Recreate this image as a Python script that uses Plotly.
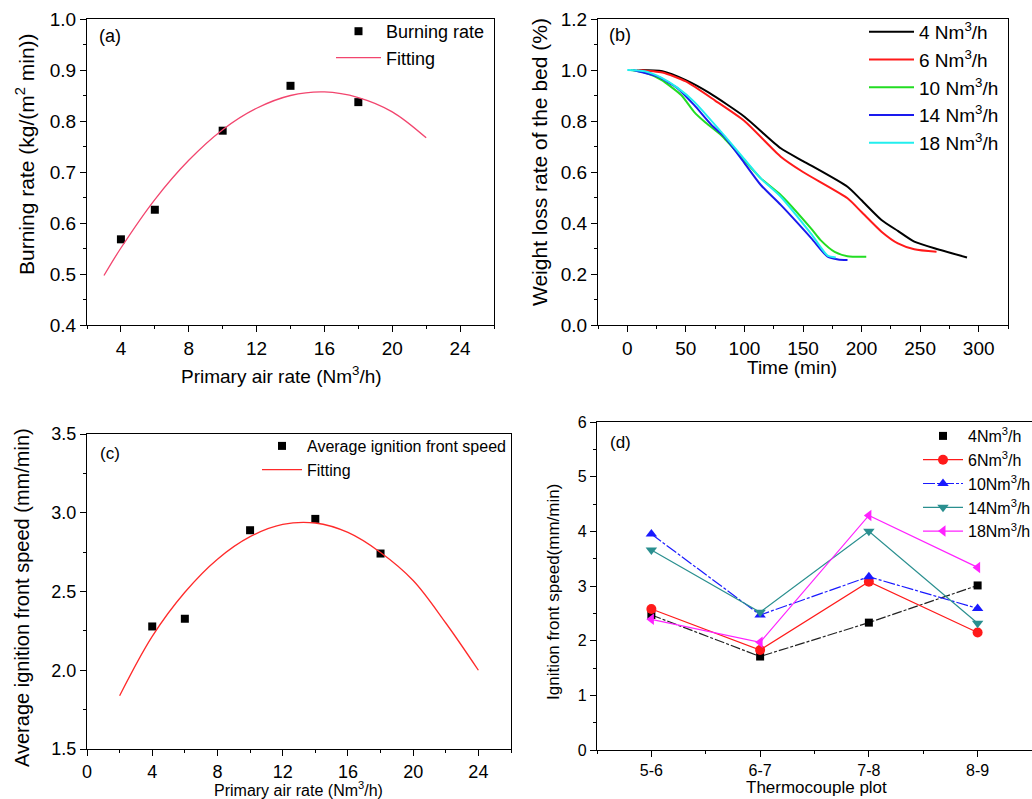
import plotly.graph_objects as go

W, H = 1032, 799
FONT = "Liberation Sans, Arial, sans-serif"


def fx(p):
    return p / W


def fy(p):
    return 1 - p / H


# ---------------- data ----------------
# (a) burning rate
air_rate = [4, 6, 10, 14, 18]
burning_rate = [0.568, 0.626, 0.781, 0.869, 0.837]
fit_a_x = [3, 4, 6, 8, 10, 12, 14, 16, 18, 20, 22]
fit_a_y = [0.497, 0.551, 0.646, 0.723, 0.783, 0.825, 0.850, 0.857, 0.846, 0.818, 0.767]

# (b) weight loss rate of the bed
t_4 = [10, 30, 50, 70, 100, 131, 150, 188, 200, 217, 231, 245, 265, 290]
w_4 = [1.0, 0.995, 0.96, 0.91, 0.817, 0.693, 0.643, 0.542, 0.489, 0.412, 0.369, 0.327, 0.297, 0.265]
t_6 = [8, 30, 50, 75, 100, 131, 150, 188, 200, 217, 231, 245, 264]
w_6 = [1.0, 0.99, 0.955, 0.88, 0.80, 0.66, 0.60, 0.497, 0.443, 0.366, 0.32, 0.297, 0.287]
t_10 = [3, 15, 29, 46, 57, 66, 80, 100, 114, 131, 157, 165, 177, 188, 204]
w_10 = [1.0, 0.99, 0.961, 0.902, 0.836, 0.797, 0.745, 0.645, 0.575, 0.51, 0.378, 0.333, 0.287, 0.27, 0.268]
t_14 = [5, 26, 43, 57, 72, 83, 100, 114, 131, 157, 171, 180, 188]
w_14 = [1.0, 0.974, 0.928, 0.863, 0.784, 0.738, 0.635, 0.549, 0.471, 0.341, 0.268, 0.257, 0.255]
t_18 = [0, 15, 29, 43, 57, 80, 100, 114, 131, 157, 171, 178]
w_18 = [1.0, 0.995, 0.97, 0.93, 0.876, 0.758, 0.65, 0.575, 0.503, 0.357, 0.272, 0.265]

# (c) average ignition front speed
ign_speed = [2.278, 2.327, 2.889, 2.961, 2.741]
fit_c_x = [2, 4, 6, 8, 10, 12, 14, 16, 18, 20, 22, 24]
fit_c_y = [1.838, 2.215, 2.495, 2.705, 2.848, 2.926, 2.935, 2.875, 2.748, 2.570, 2.300, 2.0]

# (d) ignition front speed per thermocouple plot
tc_plots = ["5-6", "6-7", "7-8", "8-9"]
d_4 = [2.47, 1.71, 2.33, 3.01]
d_6 = [2.58, 1.83, 3.08, 2.15]
d_10 = [3.95, 2.47, 3.17, 2.59]
d_14 = [3.66, 2.52, 4.00, 2.32]
d_18 = [2.39, 1.97, 4.29, 3.34]

tc_x = list(range(len(tc_plots)))

fig = go.Figure()

# ---- (a)
fig.add_trace(go.Scatter(x=air_rate, y=burning_rate, mode="markers", name="Burning rate",
                         marker=dict(symbol="square", size=8, color="black"),
                         xaxis="x", yaxis="y", legend="legend"))
fig.add_trace(go.Scatter(x=fit_a_x, y=fit_a_y, mode="lines", name="Fitting",
                         line=dict(color="#f2456e", width=1.3, shape="spline"),
                         xaxis="x", yaxis="y", legend="legend"))

# ---- (b)
b_series = [(t_4, w_4, "4", "black"), (t_6, w_6, "6", "#ff1a1a"), (t_10, w_10, "10", "#22dd22"),
            (t_14, w_14, "14", "#1a1aee"), (t_18, w_18, "18", "#22eeee")]
for tt, ww, lab, col in b_series:
    fig.add_trace(go.Scatter(x=tt, y=ww, mode="lines", name=f"{lab} Nm<sup>3</sup>/h",
                             legendgroup=f"b{lab}",
                             line=dict(color=col, width=2, shape="spline", smoothing=0.6),
                             xaxis="x2", yaxis="y2", legend="legend2"))

# ---- (c)
fig.add_trace(go.Scatter(x=air_rate, y=ign_speed, mode="markers", name="Average ignition front speed",
                         marker=dict(symbol="square", size=8, color="black"),
                         xaxis="x3", yaxis="y3", legend="legend3"))
fig.add_trace(go.Scatter(x=fit_c_x, y=fit_c_y, mode="lines", name="Fitting",
                         line=dict(color="#ff2a2a", width=1.3, shape="spline"),
                         xaxis="x3", yaxis="y3", legend="legend3"))

# ---- (d)
fig.add_trace(go.Scatter(x=tc_x, y=d_4, mode="lines", showlegend=False,
                         line=dict(color="#222222", width=1.2, dash="10px,2px,3px,2px"),
                         xaxis="x4", yaxis="y4"))
fig.add_trace(go.Scatter(x=tc_x, y=d_4, mode="markers", name="4Nm<sup>3</sup>/h",
                         marker=dict(symbol="square", size=8, color="black"),
                         xaxis="x4", yaxis="y4", legend="legend4"))
d_series = [(d_6, "6", "#ff1a1a", "circle", "solid"),
            (d_10, "10", "#1a1aff", "triangle-up", "12px,2px,3px,2px"),
            (d_14, "14", "#2a8f8f", "triangle-down", "solid"),
            (d_18, "18", "#ff22ff", "triangle-left", "solid")]
for yy, lab, col, sym, dsh in d_series:
    fig.add_trace(go.Scatter(x=tc_x, y=yy, mode="lines+markers", name=f"{lab}Nm<sup>3</sup>/h",
                             line=dict(color=col, width=1.2, dash=dsh),
                             marker=dict(symbol=sym, size=10, color=col),
                             xaxis="x4", yaxis="y4", legend="legend4"))


def axis(domain, rng, dtick, minor_dtick, tick0=0, size=19, fmt=None, anchor=None,
         mirror=True, **kw):
    d = dict(domain=domain, range=rng, dtick=dtick, tick0=tick0, showgrid=False, zeroline=False,
             showline=True, linecolor="black", linewidth=1.3, mirror=mirror,
             ticks="outside", ticklen=6, tickwidth=1.3, tickcolor="black",
             minor=dict(ticks="outside", ticklen=3, tickwidth=1.1, tickcolor="black",
                        dtick=minor_dtick, tick0=tick0, showgrid=False),
             tickfont=dict(family=FONT, size=size, color="black"), anchor=anchor,
             automargin=False)
    if fmt:
        d["tickformat"] = fmt
    d.update(kw)
    return d


layout = dict(
    width=W, height=H, margin=dict(l=0, r=0, t=0, b=0, autoexpand=False),
    paper_bgcolor="white", plot_bgcolor="white",
    font=dict(family=FONT, color="black"),
    xaxis=axis([fx(87), fx(494)], [2, 26], 4, 2, tick0=0, anchor="y"),
    yaxis=axis([fy(325), fy(19)], [0.4, 1.0], 0.1, 0.05, tick0=0, fmt=".1f", anchor="x"),
    xaxis2=axis([fx(598), fx(1008)], [-25, 325], 50, 25, tick0=0, anchor="y2"),
    yaxis2=axis([fy(325), fy(19)], [0, 1.2], 0.2, 0.1, tick0=0, fmt=".1f", anchor="x2"),
    xaxis3=axis([fx(87), fx(511)], [0, 26], 4, 2, tick0=0, size=18, anchor="y3"),
    yaxis3=axis([fy(749), fy(434)], [1.5, 3.5], 0.5, 0.25, tick0=0, size=18, fmt=".1f", anchor="x3"),
    xaxis4=axis([fx(597), 1.0], [-0.5, 3.5], 1, 0.5, tick0=0, size=16, anchor="y4",
                tickmode="array", tickvals=tc_x, ticktext=tc_plots),
    yaxis4=axis([fy(750), fy(422)], [0, 6], 1, 0.5, tick0=0, size=16, anchor="x4", mirror=False),
    legend=dict(x=fx(331), y=fy(13), xanchor="left", yanchor="top", bgcolor="rgba(0,0,0,0)",
                font=dict(family=FONT, size=18, color="black"), itemwidth=45, tracegroupgap=0),
    legend2=dict(x=fx(864), y=fy(13), xanchor="left", yanchor="top", bgcolor="rgba(0,0,0,0)",
                 font=dict(family=FONT, size=19, color="black"), itemwidth=45, tracegroupgap=0,
                 traceorder="grouped"),
    legend3=dict(x=fx(257), y=fy(429), xanchor="left", yanchor="top", bgcolor="rgba(0,0,0,0)",
                 font=dict(family=FONT, size=16, color="black"), itemwidth=40, tracegroupgap=0),
    legend4=dict(x=fx(918), y=fy(419), xanchor="left", yanchor="top", bgcolor="rgba(0,0,0,0)",
                 font=dict(family=FONT, size=16, color="black"), itemwidth=40, tracegroupgap=0),
)
fig.update_layout(**layout)

ann = [
    # panel labels
    dict(text="(a)", x=fx(110), y=fy(36), size=18),
    dict(text="(b)", x=fx(620), y=fy(35), size=18),
    dict(text="(c)", x=fx(110), y=fy(453), size=17),
    dict(text="(d)", x=fx(620), y=fy(443), size=17),
    # axis titles
    dict(text="Primary air rate (Nm<sup>3</sup>/h)", x=fx(281), y=fy(375), size=19),
    dict(text="Burning rate (kg/(m<sup>2</sup> min))", x=fx(25), y=fy(154), size=21, angle=-90),
    dict(text="Time (min)", x=fx(792), y=fy(368), size=19),
    dict(text="Weight loss rate of the bed (%)", x=fx(539), y=fy(162), size=21, angle=-90),
    dict(text="Primary air rate (Nm<sup>3</sup>/h)", x=fx(298), y=fy(789), size=16),
    dict(text="Average ignition front speed (mm/min)", x=fx(22), y=fy(598), size=20, angle=-90),
    dict(text="Thermocouple plot", x=fx(816), y=fy(787), size=17),
    dict(text="Ignition front speed(mm/min)", x=fx(553), y=fy(592), size=17, angle=-90),
]
fig.update_layout(annotations=[
    dict(text=a["text"], x=a["x"], y=a["y"], xref="paper", yref="paper", showarrow=False,
         xanchor="center", yanchor="middle", textangle=a.get("angle", 0),
         font=dict(family=FONT, size=a["size"], color="black"))
    for a in ann
])

# remove the browser's default page margin so the figure sits at the window's origin
fig.write_html("out.html", config={"displayModeBar": False},
               post_script="document.body.style.margin='0';document.body.style.overflow='hidden';")
